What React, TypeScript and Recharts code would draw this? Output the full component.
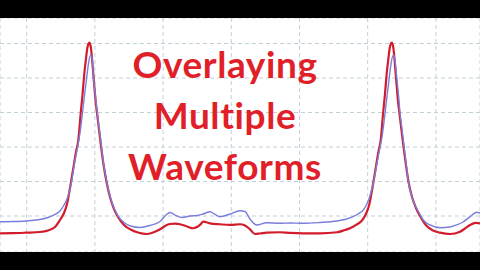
import React from "react";
import { LineChart, Line, XAxis, YAxis, CartesianGrid } from "recharts";

// Trace sampled with a reference probe (blue) and the measured signal (red).
// Time in ms, amplitude in mV.
const BLUE_T = [
  -39.1, -20, -1, 17, 31, 41.5, 48.8, 54.7, 59.1, 62.8, 65.7, 70.1, 73.8, 77.7, 81.8, 84.8, 88.0, 90.9, 93.8,
  96.2, 97.9, 100.6, 103.5, 106.0, 108.5, 112.6, 117.3, 122.1, 128.0, 133.9, 142.7, 152.4, 166.2, 180.8,
  195.5, 204.3, 210.1, 217.5, 227.7, 239.5, 249.7, 258.5, 268.8, 276.2, 283.4, 298.1, 312.8, 320.1, 327.4,
  337.3, 351.9, 371.4, 386.1, 405.1, 430.1, 455.0, 466.7, 478.5, 485.8, 494.6, 501.9, 504.9, 508.5, 513.6,
  517.3, 521.4, 525.5, 528.5, 531.7, 534.6, 537.6, 540.0, 542.5, 545.2, 547.4, 549.9, 552.2, 556.2, 559.5,
  565.0, 570.8, 576.7, 581.5, 591.4, 606.1, 620.7, 630.5, 639.8, 650.1, 659.8, 664.6,
];
const BLUE_MV = [
  0.417, 0.42, 0.428, 0.445, 0.478, 0.522, 0.572, 0.659, 0.746, 0.862, 0.993, 1.268, 1.457, 1.674, 1.993, 2.254,
  2.514, 2.732, 2.833, 2.761, 2.514, 2.254, 1.993, 1.79, 1.601, 1.268, 0.997, 0.79, 0.616, 0.5, 0.406, 0.355,
  0.333, 0.362, 0.42, 0.514, 0.551, 0.514, 0.478, 0.5, 0.507, 0.529, 0.562, 0.522, 0.49, 0.529, 0.577, 0.565,
  0.457, 0.37, 0.403, 0.394, 0.399, 0.394, 0.406, 0.428, 0.449, 0.49, 0.529, 0.601, 0.746, 0.848, 0.993, 1.268,
  1.457, 1.674, 1.993, 2.254, 2.514, 2.732, 2.833, 2.761, 2.519, 2.254, 1.993, 1.79, 1.601, 1.268, 0.997, 0.775,
  0.63, 0.522, 0.442, 0.37, 0.33, 0.341, 0.37, 0.413, 0.49, 0.554, 0.543,
];

const RED_T = [
  -39.1, -20, -1, 19.5, 31.2, 41.5, 48.8, 54.7, 59.1, 63.5, 67.9, 72.3, 75.7, 79.2, 81.8, 84.0, 86.7, 88.9, 91.8,
  94.0, 95.7, 97.2, 99.0, 100.9, 103.1, 107.9, 112.3, 117.0, 122.1, 128.0, 133.9, 142.7, 152.4, 163.2, 176.0,
  185.2, 195.5, 202.8, 210.1, 217.5, 224.8, 235.0, 244.3, 249.7, 254.1, 258.9, 268.8, 283.4, 298.1, 312.8,
  320.1, 327.4, 334.8, 342.1, 351.9, 371.4, 386.1, 405.1, 430.1, 455.0, 466.7, 474.1, 482.9, 492.2, 498.1,
  502.5, 506.9, 511.3, 515.7, 519.1, 522.6, 525.2, 527.4, 530.1, 532.3, 535.2, 537.4, 539.2, 540.6, 542.4,
  544.3, 546.5, 551.3, 555.7, 559.8, 565.0, 570.8, 576.7, 586.5, 595.8, 606.1, 620.7, 635.4, 642.7, 650.1,
  658.8, 664.6,
];
const RED_MV = [
  0.249, 0.251, 0.258, 0.268, 0.29, 0.341, 0.442, 0.543, 0.674, 0.906, 1.167, 1.428, 1.601, 1.993, 2.254, 2.514,
  2.761, 2.935, 3.012, 2.949, 2.79, 2.616, 2.399, 2.181, 1.993, 1.601, 1.268, 0.997, 0.775, 0.601, 0.486, 0.37,
  0.304, 0.261, 0.239, 0.261, 0.307, 0.355, 0.384, 0.388, 0.38, 0.348, 0.322, 0.341, 0.37, 0.417, 0.394, 0.38,
  0.37, 0.38, 0.362, 0.307, 0.239, 0.246, 0.258, 0.264, 0.254, 0.249, 0.249, 0.264, 0.297, 0.322, 0.37, 0.442,
  0.543, 0.674, 0.906, 1.167, 1.428, 1.601, 1.993, 2.254, 2.514, 2.761, 2.935, 3.012, 2.949, 2.79, 2.616, 2.399,
  2.181, 1.993, 1.601, 1.268, 0.997, 0.775, 0.616, 0.5, 0.355, 0.29, 0.258, 0.239, 0.272, 0.319, 0.37, 0.399,
  0.394,
];

const TIME_TICKS = [0, 100, 200, 300, 400, 500, 600];
const MV_TICKS = [0, 0.5, 1, 1.5, 2, 2.5, 3];
const TITLE_LINES = ["Overlaying", "Multiple", "Waveforms"];

const blueData = BLUE_T.map((t, i) => ({ t, v: BLUE_MV[i] }));
const redData = RED_T.map((t, i) => ({ t, v: RED_MV[i] }));

export default function App() {
  return (
    <div
      style={{
        position: "fixed",
        top: 0,
        left: 0,
        width: 480,
        height: 270,
        background: "#000",
        overflow: "hidden",
      }}
    >
      <div style={{ position: "absolute", top: 18, left: 0, width: 480, height: 234, background: "#fff" }}>
        <LineChart width={480} height={234} margin={{ top: 0, right: 0, bottom: 0, left: 0 }}>
          <CartesianGrid stroke="#c2d0d8" strokeDasharray="4 3" strokeWidth={1} />
          <XAxis
            dataKey="t"
            type="number"
            domain={[-39.15, 664.67]}
            ticks={TIME_TICKS}
            allowDataOverflow
            hide
          />
          <YAxis type="number" domain={[-0.022, 3.37]} ticks={MV_TICKS} allowDataOverflow hide />
          <Line
            data={redData}
            dataKey="v"
            type="monotone"
            stroke="#d21c2b"
            strokeWidth={2.2}
            dot={false}
            isAnimationActive={false}
          />
          <Line
            data={blueData}
            dataKey="v"
            type="monotone"
            stroke="#7a7ddc"
            strokeWidth={1.4}
            dot={false}
            isAnimationActive={false}
          />
        </LineChart>
      </div>
      <svg width={480} height={270} style={{ position: "absolute", top: 0, left: 0, pointerEvents: "none" }}>
        {TITLE_LINES.map((line, i) => (
          <text
            key={line}
            x={225}
            y={78 + i * 51}
            textAnchor="middle"
            fontFamily="Lato, 'Open Sans', sans-serif"
            fontWeight={700}
            fontSize={37}
            letterSpacing={0.6}
            style={{ fontVariantLigatures: "none" }}
            fill="#e01f29"
          >
            {line}
          </text>
        ))}
      </svg>
    </div>
  );
}
